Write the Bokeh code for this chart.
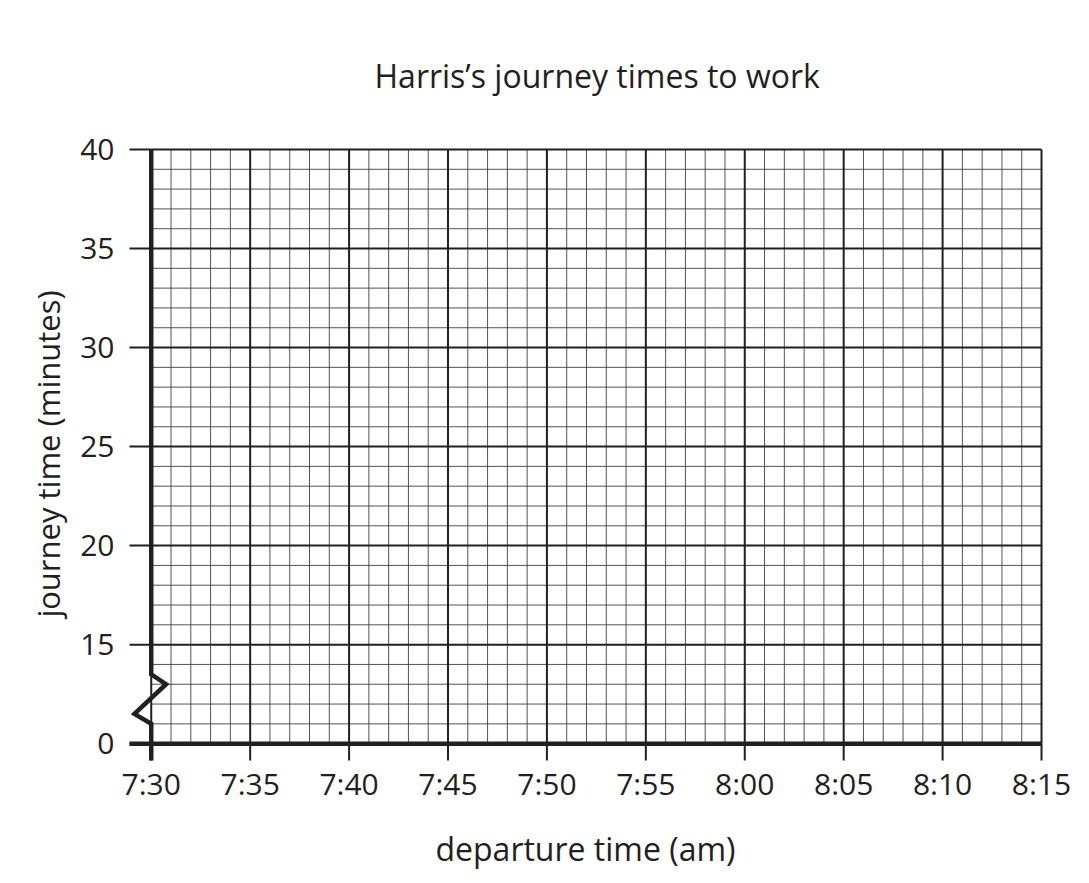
import numpy as np
from bokeh.plotting import figure
from bokeh.models import Range1d, FixedTicker, Title
from bokeh.embed import file_html
from bokeh.resources import INLINE

# ---- texts ----
title_text = "Harris\u2019s journey times to work"
x_label = "departure time (am)"
y_label = "journey time (minutes)"

# ---- axes / ticks ----
# x is minutes after 7:30
x_tick_values = [0, 5, 10, 15, 20, 25, 30, 35, 40, 45]
x_tick_labels = ["7:30", "7:35", "7:40", "7:45", "7:50", "7:55", "8:00", "8:05", "8:10", "8:15"]
y_tick_values = [0, 15, 20, 25, 30, 35, 40]
y_tick_labels = ["0", "15", "20", "25", "30", "35", "40"]
y_break_value = 15          # the axis is broken between 0 and 15
minor_per_major = 5         # each major square split into 5

# broken-axis symbol (offsets from the axis, display units)
zig_dx = [0, 0, 0.75, -0.85, 0, 0]
zig_y = [40, 13.5, 13.0, 11.5, 11.0, 9.0]

INK = "#231f20"
FONT = "Open Sans"


def ydisp(v):
    """broken scale: 0..15 squeezed into one major square"""
    v = np.asarray(v, dtype=float)
    return np.where(v < y_break_value, 10 + v * 5 / y_break_value, v)


x_min, x_max = x_tick_values[0], x_tick_values[-1]
y_disp_ticks = [int(t) for t in ydisp(y_tick_values)]
y_lo, y_hi = y_disp_ticks[0], y_disp_ticks[-1]

p = figure(
    x_range=Range1d(-1.2, x_max + 0.1),
    y_range=Range1d(9.15, y_hi + 0.1),
    frame_width=916, frame_height=613,
    min_border_left=127, min_border_right=30,
    min_border_top=147, min_border_bottom=107,
    output_backend="svg", toolbar_location=None,
    background_fill_color="white", border_fill_color="white",
    title=None,
)
p.outline_line_color = None
p.xgrid.visible = False
p.ygrid.visible = False

# minor grid
step_x = (x_tick_values[1] - x_tick_values[0]) / minor_per_major
step_y = (y_disp_ticks[2] - y_disp_ticks[1]) / minor_per_major
mx = [v for v in np.arange(x_min, x_max + 0.001, step_x) if not np.isclose(v % 5, 0) and not np.isclose(v % 5, 5)]
my = [v for v in np.arange(y_lo, y_hi + 0.001, step_y) if not np.isclose(v % 5, 0) and not np.isclose(v % 5, 5)]
p.segment(x0=mx, y0=[y_lo] * len(mx), x1=mx, y1=[y_hi] * len(mx),
          line_color="#404040", line_width=0.9)
p.segment(x0=[x_min] * len(my), y0=my, x1=[x_max] * len(my), y1=my,
          line_color="#404040", line_width=0.9)

# major grid
p.segment(x0=x_tick_values, y0=[y_lo] * len(x_tick_values), x1=x_tick_values,
          y1=[y_hi] * len(x_tick_values), line_color=INK, line_width=2)
p.segment(x0=[x_min] * len(y_disp_ticks), y0=y_disp_ticks, x1=[x_max] * len(y_disp_ticks),
          y1=y_disp_ticks, line_color=INK, line_width=2)

# tick marks outside the grid
tick_len_x = 1.1
tick_len_y = 0.98
p.segment(x0=[x_min - tick_len_x] * len(y_disp_ticks), y0=y_disp_ticks,
          x1=[x_min] * len(y_disp_ticks), y1=y_disp_ticks, line_color=INK, line_width=2)
p.segment(x0=x_tick_values, y0=[y_lo - tick_len_y] * len(x_tick_values),
          x1=x_tick_values, y1=[y_lo] * len(x_tick_values), line_color=INK, line_width=2)

# thick axes
p.line([x_min - tick_len_x, x_max], [y_lo, y_lo], line_color=INK, line_width=4.5, line_cap="butt")
p.line([x_min + d for d in zig_dx], zig_y, line_color=INK, line_width=4.5,
       line_join="miter", line_cap="butt")

# axes (labels only)
for ax in (p.xaxis[0], p.yaxis[0]):
    ax.axis_line_color = None
    ax.major_tick_line_color = None
    ax.minor_tick_line_color = None
    ax.major_tick_out = 0
    ax.major_tick_in = 0
    ax.major_label_text_font = FONT
    ax.major_label_text_font_size = "30px"
    ax.major_label_text_color = INK
    ax.axis_label_text_font = FONT
    ax.axis_label_text_color = INK
    ax.axis_label_text_font_style = "normal"

p.xaxis.ticker = FixedTicker(ticks=x_tick_values)
p.xaxis.major_label_overrides = {t: l for t, l in zip(x_tick_values, x_tick_labels)}
p.xaxis.major_label_standoff = 2
p.xaxis.axis_label = x_label
p.xaxis.axis_label_text_font_size = "32px"
p.xaxis.axis_label_standoff = 20

p.yaxis.ticker = FixedTicker(ticks=y_disp_ticks)
p.yaxis.major_label_overrides = {t: l for t, l in zip(y_disp_ticks, y_tick_labels)}
p.yaxis.major_label_standoff = 13
p.yaxis.axis_label = y_label
p.yaxis.axis_label_text_font_size = "31px"
p.yaxis.axis_label_standoff = 8

# title
p.add_layout(Title(text=title_text, align="left", offset=247, vertical_align="middle",
                   standoff=100, text_font=FONT, text_font_size="32px",
                   text_color=INK, text_font_style="normal"), "above")

open("out.html", "w").write(file_html(p, INLINE))
